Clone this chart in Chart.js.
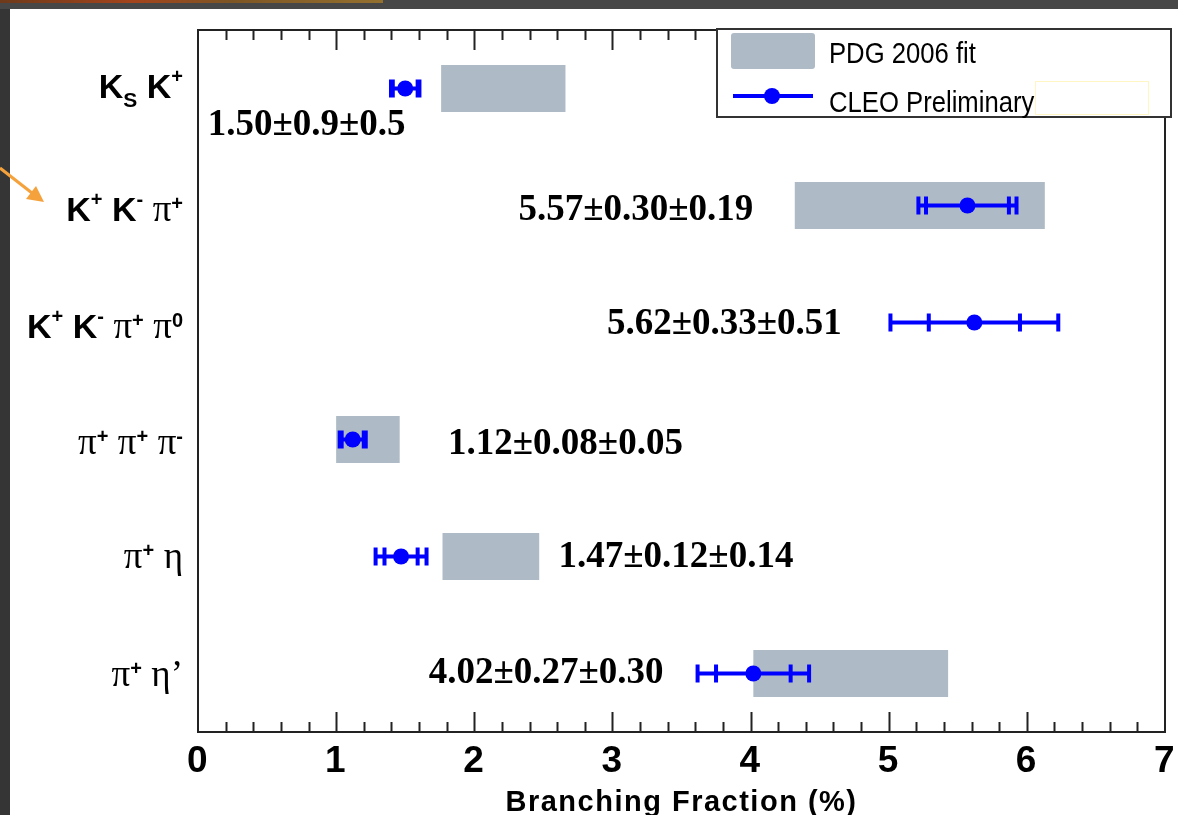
<!DOCTYPE html>
<html lang="en">
<head>
<meta charset="UTF-8">
<title>D_s Branching Fractions</title>
<script src="https://cdn.jsdelivr.net/npm/chart.js"></script>
<style>
  html, body { margin: 0; padding: 0; overflow: hidden; background: #3a3a3a; }
  #bfChart { position: absolute; left: 0; top: 0; }
</style>
</head>
<body>
<canvas id="bfChart" width="1178" height="840"></canvas>
<script>
// Decay modes (markup: ^{..} superscript, _{..} subscript)
const decays = ['K_{S} K^{+}', 'K^{+} K^{-} π^{+}', 'K^{+} K^{-} π^{+} π^{0}', 'π^{+} π^{+} π^{-}', 'π^{+} η', 'π^{+} η’'];

// PDG 2006 fit bands (%), null where there is no fit
const pdgLow  = [1.76, 4.32, null, 1.00, 1.77, 4.02];
const pdgHigh = [2.66, 6.13, null, 1.46, 2.47, 5.43];

// CLEO preliminary results (%): value, stat, syst
const cleoValue = [1.50, 5.57, 5.62, 1.12, 1.47, 4.02];
const cleoStat  = [0.09, 0.30, 0.33, 0.08, 0.12, 0.27];
const cleoSyst  = [0.05, 0.19, 0.51, 0.05, 0.14, 0.30];
const cleoText  = ['1.50±0.9±0.5', '5.57±0.30±0.19', '5.62±0.33±0.51', '1.12±0.08±0.05', '1.47±0.12±0.14', '4.02±0.27±0.30'];

const xTicks = [0, 1, 2, 3, 4, 5, 6, 7];

const BLUE = '#0000ff';
const BAND = '#aebac6';
const SANS = '"Liberation Sans", Arial, sans-serif';
const SERIF = '"Liberation Serif", "Times New Roman", serif';

function parseDecay(s) {
    const parts = [];
    for (let i = 0; i < s.length; i++) {
        const c = s[i];
        if ((c === '^' || c === '_') && s[i + 1] === '{') {
            const end = s.indexOf('}', i);
            parts.push({ text: s.slice(i + 2, end), kind: c === '^' ? 'sup' : 'sub' });
            i = end;
        } else {
            parts.push({ text: c, kind: 'base' });
        }
    }
    return parts;
}

function drawDecay(ctx, markup, right, base) {
    let prev = 'latin';
    const runs = parseDecay(markup).map(p => {
        let font, dy = 0;
        if (p.kind === 'base') {
            const greek = /[πη’]/.test(p.text);
            font = greek ? '37px ' + SERIF : 'bold 34px ' + SANS;
            if (p.text !== ' ') prev = greek ? 'greek' : 'latin';
        } else if (p.kind === 'sup') {
            font = 'bold 20px ' + SANS;
            dy = prev === 'greek' ? -11 : -15;
        } else {
            font = 'bold 21px ' + SANS;
            dy = 9;
        }
        ctx.font = font;
        return { text: p.text, font, dy, w: ctx.measureText(p.text).width };
    });
    let x = right - runs.reduce((s, r) => s + r.w, 0);
    runs.forEach(r => {
        ctx.font = r.font;
        ctx.fillText(r.text, x, base + r.dy);
        x += r.w;
    });
}

function squeezedText(ctx, text, x, y, sx) {
    ctx.save();
    ctx.translate(x, y);
    ctx.scale(sx, 1);
    ctx.fillText(text, 0, 0);
    ctx.restore();
}

const decorations = {
    id: 'decorations',
    beforeDraw(chart) {
        const ctx = chart.ctx, W = chart.width, H = chart.height;
        ctx.fillStyle = '#353535';
        ctx.fillRect(0, 0, W, H);
        ctx.fillStyle = '#474747';
        ctx.fillRect(0, 0, W, 9);
        // banner strip along the top left
        const g = ctx.createLinearGradient(0, 0, 383, 0);
        g.addColorStop(0, '#6e3a1a');
        g.addColorStop(0.35, '#a4441c');
        g.addColorStop(0.6, '#7d5524');
        g.addColorStop(1, '#94702e');
        ctx.fillStyle = g;
        ctx.fillRect(0, 0, 383, 3);
        ctx.fillStyle = '#ffffff';
        ctx.fillRect(10, 9, W - 10, H - 9);
        ctx.letterSpacing = '1.5px';
    },
    beforeDatasetDraw(chart, args) {
        if (args.index !== 0) return;
        // CLEO error bars: inner caps = stat, outer caps = stat (+) syst
        const ctx = chart.ctx, xs = chart.scales.x, ys = chart.scales.y;
        ctx.save();
        ctx.strokeStyle = BLUE;
        ctx.lineWidth = 4;
        cleoValue.forEach((v, i) => {
            const tot = Math.hypot(cleoStat[i], cleoSyst[i]);
            const y = ys.getPixelForValue(i);
            ctx.beginPath();
            ctx.moveTo(xs.getPixelForValue(v - tot), y);
            ctx.lineTo(xs.getPixelForValue(v + tot), y);
            [v - tot, v - cleoStat[i], v + cleoStat[i], v + tot].forEach(e => {
                const px = xs.getPixelForValue(e);
                ctx.moveTo(px, y - 9);
                ctx.lineTo(px, y + 9);
            });
            ctx.stroke();
        });
        ctx.restore();
    },
    afterDraw(chart, args, opts) {
        const ctx = chart.ctx, xs = chart.scales.x, ys = chart.scales.y;
        const a = chart.chartArea;
        ctx.save();
        ctx.letterSpacing = '0px';

        // frame and inward ticks
        ctx.strokeStyle = '#222';
        ctx.lineWidth = 2;
        ctx.strokeRect(a.left, a.top, a.right - a.left, a.bottom - a.top);
        ctx.beginPath();
        for (let k = 1; k < 35; k++) {
            const px = Math.round(xs.getPixelForValue(k * 0.2)) + 0.5;
            const len = k % 5 === 0 ? 20 : 10;
            ctx.moveTo(px, a.bottom);
            ctx.lineTo(px, a.bottom - len);
            ctx.moveTo(px, a.top);
            ctx.lineTo(px, a.top + len);
        }
        ctx.stroke();

        // result labels
        ctx.fillStyle = '#000';
        ctx.textAlign = 'left';
        ctx.textBaseline = 'alphabetic';
        ctx.font = 'bold 37px ' + SERIF;
        cleoText.forEach((t, i) => {
            ctx.fillText(t, xs.getPixelForValue(opts.labelAt[i]), ys.getPixelForValue(i) + opts.labelDy[i]);
        });

        // decay mode labels
        decays.forEach((d, i) => drawDecay(ctx, d, a.left - 15, ys.getPixelForValue(i) + opts.decayDy[i]));

        // legend
        const L = { x: 717, y: 29, w: 454, h: 88 };
        ctx.fillStyle = '#fff';
        ctx.fillRect(L.x, L.y, L.w, L.h);
        ctx.strokeStyle = '#333';
        ctx.lineWidth = 2;
        ctx.strokeRect(L.x, L.y, L.w, L.h);
        ctx.fillStyle = BAND;
        ctx.beginPath();
        ctx.roundRect(L.x + 14, L.y + 4, 84, 36, 3);
        ctx.fill();
        ctx.strokeStyle = BLUE;
        ctx.lineWidth = 4;
        ctx.beginPath();
        ctx.moveTo(L.x + 16, L.y + 67);
        ctx.lineTo(L.x + 96, L.y + 67);
        ctx.stroke();
        ctx.fillStyle = BLUE;
        ctx.beginPath();
        ctx.arc(L.x + 55, L.y + 67, 8, 0, Math.PI * 2);
        ctx.fill();
        ctx.fillStyle = '#000';
        ctx.font = '29px ' + SANS;
        squeezedText(ctx, 'PDG 2006 fit', L.x + 112, L.y + 34, 0.885);
        squeezedText(ctx, 'CLEO Preliminary', L.x + 112, L.y + 83, 0.885);
        ctx.strokeStyle = '#fff6c4';
        ctx.lineWidth = 1;
        ctx.strokeRect(1035.5, 81.5, 113, 33);

        // pointer arrow at the left edge
        ctx.strokeStyle = '#f5a23c';
        ctx.fillStyle = '#f5a23c';
        ctx.lineWidth = 3;
        ctx.beginPath();
        ctx.moveTo(0, 168);
        ctx.lineTo(32, 193);
        ctx.stroke();
        ctx.beginPath();
        ctx.moveTo(44, 202);
        ctx.lineTo(26, 199);
        ctx.lineTo(36, 186);
        ctx.closePath();
        ctx.fill();
        ctx.restore();
    }
};

const chart = new Chart(document.getElementById('bfChart'), {
    type: 'bar',
    data: {
        labels: decays,
        datasets: [
            {
                type: 'line',
                label: 'CLEO Preliminary',
                data: cleoValue,
                indexAxis: 'y',
                showLine: false,
                pointRadius: 8,
                pointHoverRadius: 8,
                pointBackgroundColor: BLUE,
                pointBorderColor: BLUE,
                pointBorderWidth: 0,
                order: 0
            },
            {
                type: 'bar',
                label: 'PDG 2006 fit',
                data: pdgLow.map((lo, i) => lo === null ? null : [lo, pdgHigh[i]]),
                backgroundColor: BAND,
                borderWidth: 0,
                categoryPercentage: 1,
                barPercentage: 0.4,
                order: 1
            }
        ]
    },
    options: {
        indexAxis: 'y',
        responsive: false,
        animation: false,
        events: [],
        layout: { padding: { top: 30, right: 13, left: 0, bottom: 0 } },
        plugins: {
            legend: { display: false },
            tooltip: { enabled: false },
            decorations: {
                labelAt: [0.07, 2.32, 2.96, 1.81, 2.61, 1.67],
                labelDy: [46.5, 14.5, 11.5, 14.5, 10.5, 9.5],
                decayDy: [9.5, 15, 15, 14, 11, 12]
            }
        },
        scales: {
            x: {
                type: 'linear',
                position: 'bottom',
                min: xTicks[0],
                max: xTicks[xTicks.length - 1],
                grid: { display: false, drawTicks: false },
                border: { display: false },
                afterBuildTicks: s => { s.ticks = xTicks.map(v => ({ value: v })); },
                afterFit: s => { s.height = 108; s.paddingLeft = 0; s.paddingRight = 0; },
                ticks: {
                    color: '#000',
                    padding: 8,
                    autoSkip: false,
                    maxRotation: 0,
                    font: { family: SANS, size: 37, weight: 'bold' }
                },
                title: {
                    display: true,
                    text: 'Branching Fraction (%)',
                    color: '#000',
                    font: { family: SANS, size: 29, weight: 'bold' },
                    padding: { top: 0, bottom: 20 }
                }
            },
            y: {
                type: 'category',
                grid: { display: false, drawTicks: false },
                border: { display: false },
                ticks: { display: false },
                afterFit: s => { s.width = 198; }
            }
        }
    },
    plugins: [decorations]
});
</script>
</body>
</html>
